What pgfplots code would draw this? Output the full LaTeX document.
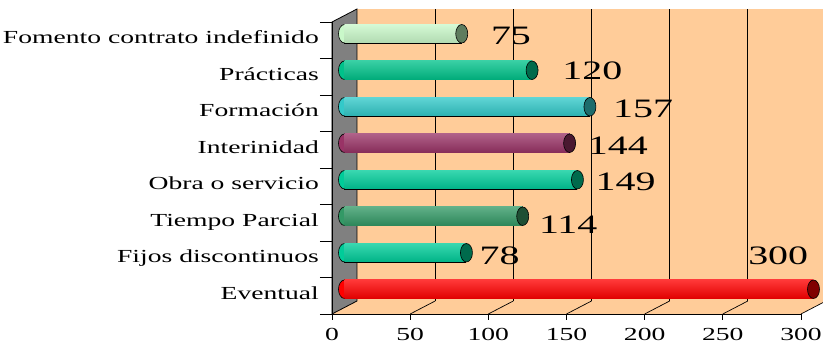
\documentclass[border=0pt]{standalone}
\usepackage{fontspec}
\setmainfont{Liberation Serif}[FakeStretch=1.5]
\usepackage{pgfplots}
\pgfplotsset{compat=1.18}

\definecolor{peach}{HTML}{FFCC99}
\definecolor{wallgray}{HTML}{808080}
\definecolor{fomC}{HTML}{C9F8C9}\definecolor{fomD}{HTML}{5E7C5E}
\definecolor{praC}{HTML}{00C28A}\definecolor{praD}{HTML}{006A4B}
\definecolor{forC}{HTML}{33C9C9}\definecolor{forD}{HTML}{1D6C6C}
\definecolor{intC}{HTML}{993366}\definecolor{intD}{HTML}{4A1830}
\definecolor{obrC}{HTML}{00CC99}\definecolor{obrD}{HTML}{006A4C}
\definecolor{tieC}{HTML}{339966}\definecolor{tieD}{HTML}{1E4F34}
\definecolor{fijC}{HTML}{00CC99}\definecolor{fijD}{HTML}{006A4C}
\definecolor{evC}{HTML}{FF0000}\definecolor{evD}{HTML}{800000}

\newcommand\lblfont{\fontsize{18.4}{21}\selectfont}
\newcommand\valfont{\fontsize{26.6}{30}\selectfont}

% elliptical front end of a cylinder bar
\pgfdeclareplotmark{cylcap}{%
  \pgfpathellipse{\pgfpointorigin}{\pgfqpoint{6pt}{0pt}}{\pgfqpoint{0pt}{9.25pt}}%
  \pgfusepathqfillstroke}
% rounded back end: left half of the ellipse, outline on the curve only
\pgfdeclareplotmark{cylback}{%
  \pgfpathmoveto{\pgfqpoint{0pt}{9.25pt}}%
  \pgfpatharc{90}{270}{6pt and 9.25pt}%
  \pgfusepathqfillstroke}

\pgfplotsset{
  depth/.style={xshift=12.5pt,yshift=6.5pt},
  cylleft/.style={only marks, mark=cylback,
    mark options={fill=#1, draw=black, line width=0.6pt}, depth},
  cylrim/.style={xbar, bar shift=0pt, bar width=19.7pt, fill=black, draw=none, depth},
  cylbody/.style 2 args={xbar, bar shift=0pt, bar width=18.5pt, draw=none,
    top color=#1!78!white, middle color=#1, bottom color=#1!88!black,
    mark=cylcap, mark options={fill=#2, draw=black, line width=0.6pt}, depth},
  lbl/.style 2 args={nodes near coords,
    every node near coord/.style={font=\valfont, text=black, anchor=west,
      inner sep=0pt, xshift=#1pt, yshift=#2pt}},
}

\begin{document}
\begin{tikzpicture}
\path[use as bounding box] (0,0) rectangle (823pt,344pt);
\begin{axis}[
  at={(332pt,30pt)}, anchor=south west,
  scale only axis, width=469pt, height=292pt,
  xmin=0, xmax=300, ymin=-0.5, ymax=7.5,
  clip=false, clip marker paths=true, axis on top,
  axis x line*=bottom, axis y line*=left,
  axis line style={black, line width=0.8pt},
  xtick={0,50,...,300},
  ytick={0,...,7},
  yticklabels={Eventual, Fijos discontinuos, Tiempo Parcial, Obra o servicio,
    Interinidad, Formación, Prácticas, Fomento contrato indefinido},
  minor ytick={-0.5,0.5,...,7.5},
  tick align=outside,
  major tick length=6pt, minor tick length=12pt,
  major y tick style={draw=none},
  tick style={black, line width=0.8pt},
  ticklabel style={font=\lblfont},
  /pgf/number format/assume math mode=true,
  xticklabel style={inner sep=0pt, yshift=-8pt},
  yticklabel style={inner sep=0pt, anchor=east, xshift=-7pt,
    text height=0.66em, text depth=0pt},
]
% back wall, floor and side wall
\fill[peach] ([shift={(25pt,13pt)}]axis cs:0,-0.5) rectangle ([shift={(25pt,13pt)}]axis cs:300,7.5);
\fill[peach] (axis cs:0,-0.5) -- (axis cs:300,-0.5) -- ([shift={(25pt,13pt)}]axis cs:300,-0.5)
  -- ([shift={(25pt,13pt)}]axis cs:0,-0.5) -- cycle;
\pgfplotsinvokeforeach{50,100,...,300}{
  \draw[black, line width=0.7pt] ([shift={(25pt,13pt)}]axis cs:#1,-0.5) -- ([shift={(25pt,13pt)}]axis cs:#1,7.5);
  \draw[black, line width=0.7pt] (axis cs:#1,-0.5) -- ([shift={(25pt,13pt)}]axis cs:#1,-0.5);
}
\filldraw[fill=wallgray, draw=black, line width=0.8pt] (axis cs:0,-0.5) -- (axis cs:0,7.5)
  -- ([shift={(25pt,13pt)}]axis cs:0,7.5) -- ([shift={(25pt,13pt)}]axis cs:0,-0.5) -- cycle;

% Eventual
\addplot[cylleft=evC] coordinates {(0,0)};
\addplot[cylrim] coordinates {(300,0)};
\addplot[cylbody={evC}{evD}, lbl={-65.5}{33}] coordinates {(300,0)};
% Fijos discontinuos
\addplot[cylleft=fijC] coordinates {(0,1)};
\addplot[cylrim] coordinates {(78,1)};
\addplot[cylbody={fijC}{fijD}, lbl={13}{-3}] coordinates {(78,1)};
% Tiempo Parcial
\addplot[cylleft=tieC] coordinates {(0,2)};
\addplot[cylrim] coordinates {(114,2)};
\addplot[cylbody={tieC}{tieD}, lbl={16}{-8}] coordinates {(114,2)};
% Obra o servicio
\addplot[cylleft=obrC] coordinates {(0,3)};
\addplot[cylrim] coordinates {(149,3)};
\addplot[cylbody={obrC}{obrD}, lbl={18}{-2}] coordinates {(149,3)};
% Interinidad
\addplot[cylleft=intC] coordinates {(0,4)};
\addplot[cylrim] coordinates {(144,4)};
\addplot[cylbody={intC}{intD}, lbl={18}{-2}] coordinates {(144,4)};
% Formación
\addplot[cylleft=forC] coordinates {(0,5)};
\addplot[cylrim] coordinates {(157,5)};
\addplot[cylbody={forC}{forD}, lbl={23}{-2}] coordinates {(157,5)};
% Prácticas
\addplot[cylleft=praC] coordinates {(0,6)};
\addplot[cylrim] coordinates {(120,6)};
\addplot[cylbody={praC}{praD}, lbl={30}{-1}] coordinates {(120,6)};
% Fomento contrato indefinido
\addplot[cylleft=fomC] coordinates {(0,7)};
\addplot[cylrim] coordinates {(75,7)};
\addplot[cylbody={fomC}{fomD}, lbl={29}{-2.5}] coordinates {(75,7)};
\end{axis}
\end{tikzpicture}
\end{document}
